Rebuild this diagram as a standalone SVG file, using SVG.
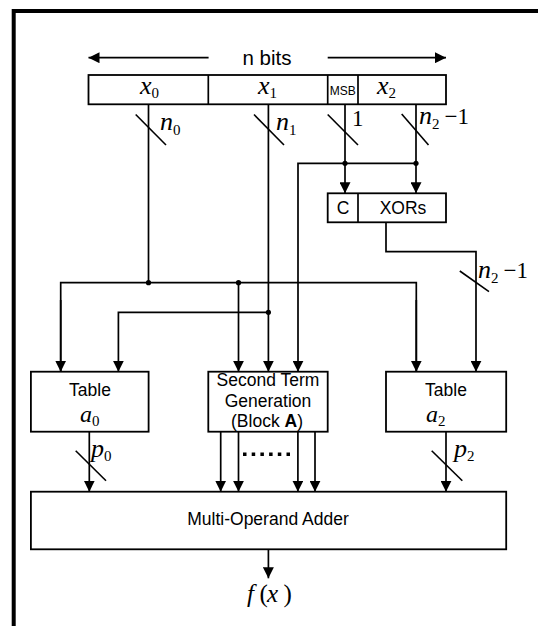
<svg xmlns="http://www.w3.org/2000/svg" width="538" height="626" viewBox="0 0 538 626">
<defs>
<marker id="ah" markerUnits="userSpaceOnUse" markerWidth="12" markerHeight="11" refX="11" refY="5.5" orient="auto">
<path d="M0,0 L11,5.5 L0,11 z" fill="#000"/>
</marker>
<style>
.ln{fill:none;stroke:#000;stroke-width:1.7}
.bx{fill:#fff;stroke:#000;stroke-width:1.8}
.sl{stroke:#000;stroke-width:1.6}
.dot{fill:#000}
.s{font-family:"Liberation Sans",Arial,sans-serif;fill:#000}
.m{font-family:"Liberation Serif","Times New Roman",serif;font-style:italic;fill:#000}
.r{font-family:"Liberation Serif","Times New Roman",serif;font-style:normal;fill:#000}
</style>
</defs>
<rect width="538" height="626" fill="#fff"/>
<path d="M13.7,626 V11 H538" fill="none" stroke="#000" stroke-width="4"/>

<g id="nbits">
<line class="ln" x1="208.6" y1="57.7" x2="88.5" y2="57.7" marker-end="url(#ah)"/>
<line class="ln" x1="327.7" y1="57.7" x2="446" y2="57.7" marker-end="url(#ah)"/>
<text class="s" x="267" y="65" font-size="20.5" text-anchor="middle">n bits</text>
</g>

<g id="register">
<rect class="bx" x="88.5" y="75" width="357.5" height="29.3"/>
<line class="ln" x1="208.3" y1="75" x2="208.3" y2="104.3"/>
<line class="ln" x1="327.7" y1="75" x2="327.7" y2="104.3"/>
<line class="ln" x1="358" y1="75" x2="358" y2="104.3"/>
<text class="m" x="140" y="94" font-size="26">x<tspan class="r" font-size="15" dy="4">0</tspan></text>
<text class="m" x="258" y="94" font-size="26">x<tspan class="r" font-size="15" dy="4">1</tspan></text>
<text class="s" x="342.8" y="95" font-size="12" text-anchor="middle">MSB</text>
<text class="m" x="377" y="94" font-size="26">x<tspan class="r" font-size="15" dy="4">2</tspan></text>
</g>

<g id="cxors">
<rect class="bx" x="327.7" y="193.3" width="118.3" height="29"/>
<line class="ln" x1="358" y1="193.3" x2="358" y2="222.3"/>
<text class="s" x="343" y="214" font-size="17.5" text-anchor="middle">C</text>
<text class="s" x="403" y="214" font-size="17.5" text-anchor="middle">XORs</text>
</g>

<g id="table-a0">
<rect class="bx" x="30.9" y="371.7" width="117.7" height="60"/>
<text class="s" x="90" y="396" font-size="17.5" text-anchor="middle">Table</text>
<text class="m" x="80" y="422" font-size="24">a<tspan class="r" font-size="15" dy="4">0</tspan></text>
</g>

<g id="second-term">
<rect class="bx" x="208.3" y="371.7" width="119.4" height="60"/>
<text class="s" x="268" y="386" font-size="17.5" text-anchor="middle">Second Term</text>
<text class="s" x="268" y="406.7" font-size="17.5" text-anchor="middle">Generation</text>
<text class="s" x="267" y="426.7" font-size="17.5" text-anchor="middle">(Block <tspan font-weight="bold">A</tspan>)</text>
</g>

<g id="table-a2">
<rect class="bx" x="386" y="371.7" width="120.2" height="60"/>
<text class="s" x="446" y="396" font-size="17.5" text-anchor="middle">Table</text>
<text class="m" x="426" y="422" font-size="24">a<tspan class="r" font-size="15" dy="4">2</tspan></text>
</g>

<g id="adder">
<rect class="bx" x="30.9" y="491.7" width="475.3" height="57.6"/>
<text class="s" x="268" y="525" font-size="17.5" text-anchor="middle">Multi-Operand Adder</text>
</g>

<g id="output">
<text class="m" font-size="25" y="601.5"><tspan x="247">f</tspan><tspan class="r" x="259.5">(</tspan><tspan x="267">x</tspan><tspan class="r" x="283.5">)</tspan></text>
</g>

<g id="connectors">
<line class="ln" x1="148.5" y1="104.3" x2="148.5" y2="282.7"/>
<line class="ln" x1="268.4" y1="104.3" x2="268.4" y2="371.7" marker-end="url(#ah)"/>
<line class="ln" x1="345" y1="104.3" x2="345" y2="193.3" marker-end="url(#ah)"/>
<line class="ln" x1="416" y1="104.3" x2="416" y2="193.3" marker-end="url(#ah)"/>
<polyline class="ln" points="416,163.3 298,163.3 298,371.7" marker-end="url(#ah)"/>
<polyline class="ln" points="60.7,371.7 60.7,282.7 416.3,282.7 416.3,371.7"/>
<line class="ln" x1="60.7" y1="300" x2="60.7" y2="371.7" marker-end="url(#ah)"/>
<line class="ln" x1="416.3" y1="300" x2="416.3" y2="371.7" marker-end="url(#ah)"/>
<line class="ln" x1="238.5" y1="282.7" x2="238.5" y2="371.7" marker-end="url(#ah)"/>
<polyline class="ln" points="268.4,312.3 118.4,312.3 118.4,371.7" marker-end="url(#ah)"/>
<polyline class="ln" points="386,222.3 386,251.7 476,251.7 476,371.7" marker-end="url(#ah)"/>
<line class="ln" x1="89.3" y1="431.7" x2="89.3" y2="491.7" marker-end="url(#ah)"/>
<line class="ln" x1="446" y1="431.7" x2="446" y2="491.7" marker-end="url(#ah)"/>
<line class="ln" x1="220.7" y1="431.7" x2="220.7" y2="491.7" marker-end="url(#ah)"/>
<line class="ln" x1="238.5" y1="431.7" x2="238.5" y2="491.7" marker-end="url(#ah)"/>
<line class="ln" x1="297.9" y1="431.7" x2="297.9" y2="491.7" marker-end="url(#ah)"/>
<line class="ln" x1="315" y1="431.7" x2="315" y2="491.7" marker-end="url(#ah)"/>
<line class="ln" x1="268.4" y1="549.3" x2="268.4" y2="578.3" marker-end="url(#ah)"/>
<circle class="dot" cx="345" cy="163.3" r="2.6"/>
<circle class="dot" cx="416" cy="163.3" r="2.6"/>
<circle class="dot" cx="148.5" cy="282.7" r="2.6"/>
<circle class="dot" cx="238.5" cy="282.7" r="2.6"/>
<circle class="dot" cx="268.4" cy="312.3" r="2.6"/>
<g class="dot">
<rect x="243" y="452.5" width="3.5" height="3.5"/>
<rect x="251.7" y="452.5" width="3.5" height="3.5"/>
<rect x="260.4" y="452.5" width="3.5" height="3.5"/>
<rect x="269.1" y="452.5" width="3.5" height="3.5"/>
<rect x="277.8" y="452.5" width="3.5" height="3.5"/>
<rect x="286.5" y="452.5" width="3.5" height="3.5"/>
</g>
<line class="sl" x1="135.7" y1="114.5" x2="166" y2="145"/>
<line class="sl" x1="254" y1="114.5" x2="284" y2="145"/>
<line class="sl" x1="327.7" y1="114.5" x2="358" y2="145"/>
<line class="sl" x1="401.7" y1="114" x2="428.5" y2="145"/>
<line class="sl" x1="459.8" y1="271" x2="489" y2="291.7"/>
<line class="sl" x1="75.7" y1="450.7" x2="106" y2="480.7"/>
<line class="sl" x1="431.7" y1="450.7" x2="462.3" y2="480.7"/>
</g>

<g id="width-labels">
<text class="m" x="160" y="130" font-size="26">n<tspan class="r" font-size="15" dy="5">0</tspan></text>
<text class="m" x="276" y="130" font-size="26">n<tspan class="r" font-size="15" dy="5">1</tspan></text>
<text class="r" x="352" y="126" font-size="23">1</text>
<text class="m" x="419" y="124" font-size="26">n<tspan class="r" font-size="15" dy="5">2</tspan><tspan class="r" font-size="23" dx="5" dy="-5">−1</tspan></text>
<text class="m" x="478" y="278" font-size="26">n<tspan class="r" font-size="15" dy="5">2</tspan><tspan class="r" font-size="23" dx="5" dy="-5">−1</tspan></text>
<text class="m" x="91" y="457" font-size="26">p<tspan class="r" font-size="15" dy="4">0</tspan></text>
<text class="m" x="454" y="457" font-size="26">p<tspan class="r" font-size="15" dy="4">2</tspan></text>
</g>
</svg>
